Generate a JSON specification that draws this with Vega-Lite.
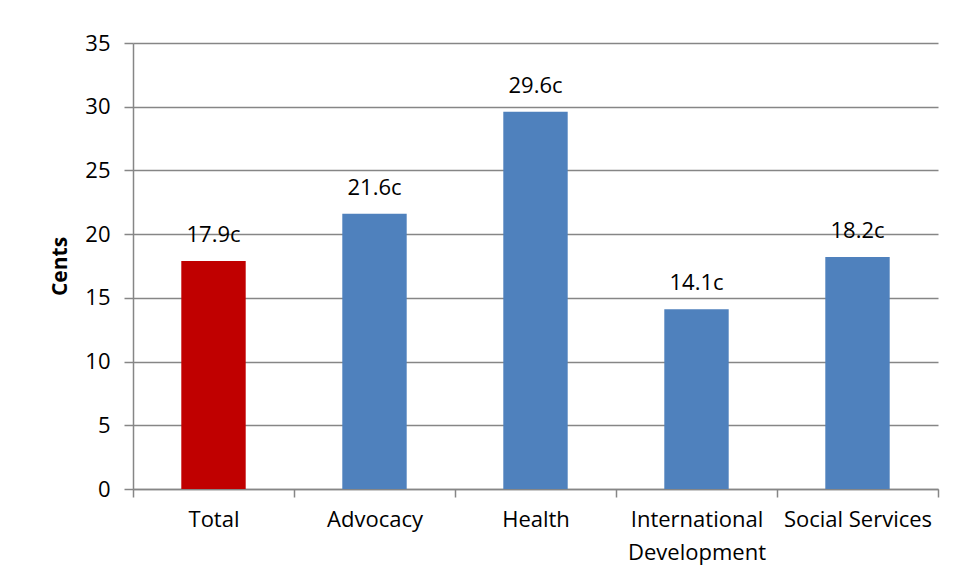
{
  "$schema": "https://vega.github.io/schema/vega-lite/v6.json",
  "autosize": "none",
  "width": 805,
  "height": 446,
  "padding": {"left": 133, "top": 43, "right": 16, "bottom": 94},
  "background": "white",
  "config": {
    "view": {"stroke": null},
    "font": "Open Sans"
  },
  "data": {
    "values": [
      {"category": "Total", "cents": 17.9, "label": "17.9c", "group": "total"},
      {"category": "Advocacy", "cents": 21.6, "label": "21.6c", "group": "sector"},
      {"category": "Health", "cents": 29.6, "label": "29.6c", "group": "sector"},
      {"category": "International Development", "cents": 14.1, "label": "14.1c", "group": "sector"},
      {"category": "Social Services", "cents": 18.2, "label": "18.2c", "group": "sector"}
    ]
  },
  "encoding": {
    "x": {
      "field": "category",
      "type": "nominal",
      "sort": null,
      "scale": {"paddingInner": 0, "paddingOuter": 0},
      "axis": {
        "title": null,
        "labelAngle": 0,
        "labelFont": "Open Sans",
        "labelFontSize": 22,
        "labelColor": "#000000",
        "labelPadding": 12,
        "labelBaseline": "top",
        "labelLineHeight": 33,
        "labelExpr": "datum.label == 'International Development' ? ['International', 'Development'] : datum.label",
        "domainColor": "#868686",
        "domainWidth": 1.5,
        "tickColor": "#868686",
        "tickWidth": 1.5,
        "tickSize": 8,
        "tickBand": "extent",
        "grid": false
      }
    },
    "y": {
      "field": "cents",
      "type": "quantitative",
      "scale": {"domain": [0, 35], "nice": false},
      "axis": {
        "title": "Cents",
        "titleFont": "Open Sans",
        "titleFontSize": 21,
        "titleFontWeight": "bold",
        "titleColor": "#000000",
        "titlePadding": 14,
        "values": [0, 5, 10, 15, 20, 25, 30, 35],
        "labelFont": "Open Sans",
        "labelFontSize": 22,
        "labelColor": "#000000",
        "labelPadding": 14,
        "domainColor": "#868686",
        "domainWidth": 1.5,
        "tickColor": "#868686",
        "tickWidth": 1.5,
        "tickSize": 9,
        "gridColor": "#868686",
        "gridWidth": 1.5
      }
    }
  },
  "layer": [
    {
      "mark": {"type": "bar", "width": {"band": 0.4}},
      "encoding": {
        "color": {
          "field": "group",
          "type": "nominal",
          "scale": {"domain": ["total", "sector"], "range": ["#C00000", "#4F81BD"]},
          "legend": null
        }
      }
    },
    {
      "mark": {"type": "text", "baseline": "alphabetic", "dy": -19, "fontSize": 22, "font": "Open Sans", "color": "#000000"},
      "encoding": {
        "text": {"field": "label", "type": "nominal"}
      }
    }
  ]
}
